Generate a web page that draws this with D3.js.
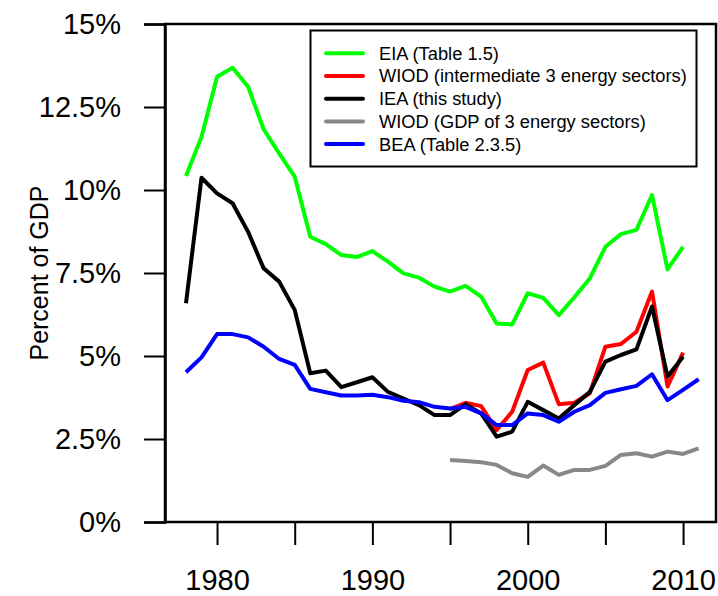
<!DOCTYPE html>
<html>
<head>
<meta charset="utf-8">
<script src="https://cdn.jsdelivr.net/npm/d3@7"></script>
<style>
  body { margin: 0; background: #fff; }
  svg { display: block; font-family: "Liberation Sans", Arial, Helvetica, sans-serif; }
</style>
</head>
<body>
<svg id="chart" width="718" height="596"></svg>
<script>
// years on the x axis
const years = d3.range(1978, 2012);

// percent of GDP, one value per year (null = no data)
const eia = [10.42, 11.6, 13.41, 13.68, 13.11, 11.83, 11.1, 10.4, 8.59, 8.37, 8.04, 7.98, 8.16, 7.84, 7.49, 7.36, 7.09,
  6.94, 7.11, 6.79, 5.98, 5.95, 6.89, 6.75, 6.23, 6.77, 7.34, 8.29, 8.67, 8.8, 9.85, 7.61, 8.29, null];
const wiodInter = [null, null, null, null, null, null, null, null, null, null, null, null, null, null, null, null, null,
  3.4, 3.59, 3.49, 2.77, 3.32, 4.58, 4.8, 3.55, 3.59, 3.88, 5.28, 5.36, 5.73, 6.94, 4.08, 5.1, null];
const iea = [6.59, 10.37, 9.9, 9.6, 8.74, 7.64, 7.24, 6.39, 4.48, 4.56, 4.06, 4.21, 4.36, 3.92, 3.72, 3.52, 3.22,
  3.22, 3.55, 3.27, 2.57, 2.72, 3.62, 3.37, 3.12, 3.52, 3.92, 4.83, 5.03, 5.2, 6.49, 4.38, 4.98, null];
const wiodGdp = [null, null, null, null, null, null, null, null, null, null, null, null, null, null, null, null, null,
  1.87, 1.84, 1.8, 1.72, 1.47, 1.36, 1.7, 1.42, 1.57, 1.57, 1.69, 2.02, 2.07, 1.97, 2.12, 2.05, 2.22];
const bea = [4.51, 4.96, 5.66, 5.66, 5.56, 5.28, 4.91, 4.73, 4.01, 3.91, 3.81, 3.81, 3.83, 3.76, 3.65, 3.61, 3.47,
  3.42, 3.47, 3.27, 2.92, 2.92, 3.27, 3.22, 3.02, 3.32, 3.52, 3.89, 4.0, 4.1, 4.45, 3.67, 3.98, 4.3];

const seriesNames = ["EIA (Table 1.5)", "WIOD (intermediate 3 energy sectors)", "IEA (this study)",
  "WIOD (GDP of 3 energy sectors)", "BEA (Table 2.3.5)"];
const seriesColors = ["#00ff00", "#ff0000", "#000000", "#888888", "#0000ff"];

const yTicks = [0, 2.5, 5, 7.5, 10, 12.5, 15];
const yTickLabels = ["0%", "2.5%", "5%", "7.5%", "10%", "12.5%", "15%"];
const xTicks = [1980, 1985, 1990, 1995, 2000, 2005, 2010];
const xTickLabels = ["1980", "", "1990", "", "2000", "", "2010"];

const svg = d3.select("#chart");
const plotLeft = 165, plotRight = 716, plotTop = 24, plotBottom = 522;

const x = d3.scaleLinear().domain([1976.65, 2012.12]).range([plotLeft, plotRight]);
const y = d3.scaleLinear().domain([0, 15]).range([plotBottom, plotTop]);

// box
svg.append("rect")
  .attr("x", plotLeft).attr("y", plotTop)
  .attr("width", plotRight - plotLeft).attr("height", plotBottom - plotTop)
  .attr("fill", "none").attr("stroke", "#000").attr("stroke-width", 2.5);

// y axis
const yAxis = svg.append("g")
  .attr("transform", "translate(" + plotLeft + ",0)")
  .call(d3.axisLeft(y).tickValues(yTicks).tickSize(21).tickPadding(23)
    .tickFormat((d, i) => yTickLabels[i]));
yAxis.select(".domain").attr("stroke-width", 2.5);
yAxis.selectAll(".tick line").attr("stroke-width", 2);
yAxis.selectAll("text").attr("font-size", 29).attr("font-family", "Liberation Sans, Arial, sans-serif").attr("fill", "#000");

// x axis
const xAxis = svg.append("g")
  .attr("transform", "translate(0," + plotBottom + ")")
  .call(d3.axisBottom(x).tickValues(xTicks).tickSize(23).tickPadding(24)
    .tickFormat((d, i) => xTickLabels[i]));
xAxis.select(".domain").remove();
xAxis.selectAll(".tick line").attr("stroke-width", 2);
xAxis.selectAll("text").attr("font-size", 29).attr("font-family", "Liberation Sans, Arial, sans-serif").attr("fill", "#000");

// y title
svg.append("text")
  .attr("transform", "translate(48," + ((plotTop + plotBottom) / 2) + ") rotate(-90)")
  .attr("text-anchor", "middle")
  .attr("font-size", 25)
  .text("Percent of GDP");

// lines
const allSeries = [eia, wiodInter, iea, wiodGdp, bea];
const line = d3.line()
  .defined(d => d.v != null)
  .x(d => x(d.year))
  .y(d => y(d.v));

allSeries.forEach((vals, i) => {
  const pts = years.map((yr, j) => ({ year: yr, v: vals[j] }));
  svg.append("path")
    .datum(pts)
    .attr("d", line)
    .attr("fill", "none")
    .attr("stroke", seriesColors[i])
    .attr("stroke-width", 4)
    .attr("stroke-linejoin", "round");
});

// legend
const legend = svg.append("g");
legend.append("rect")
  .attr("x", 310.5).attr("y", 30.5)
  .attr("width", 386).attr("height", 136)
  .attr("fill", "#fff").attr("stroke", "#000").attr("stroke-width", 2);

seriesNames.forEach((name, i) => {
  const ly = 53.3 + i * 22.7;
  legend.append("line")
    .attr("x1", 326).attr("x2", 363)
    .attr("y1", ly).attr("y2", ly)
    .attr("stroke", seriesColors[i]).attr("stroke-width", 4)
    .attr("stroke-linecap", "round");
  legend.append("text")
    .attr("x", 379).attr("y", ly)
    .attr("dy", "0.35em")
    .attr("font-size", 18.3)
    .text(name);
});
</script>
</body>
</html>
